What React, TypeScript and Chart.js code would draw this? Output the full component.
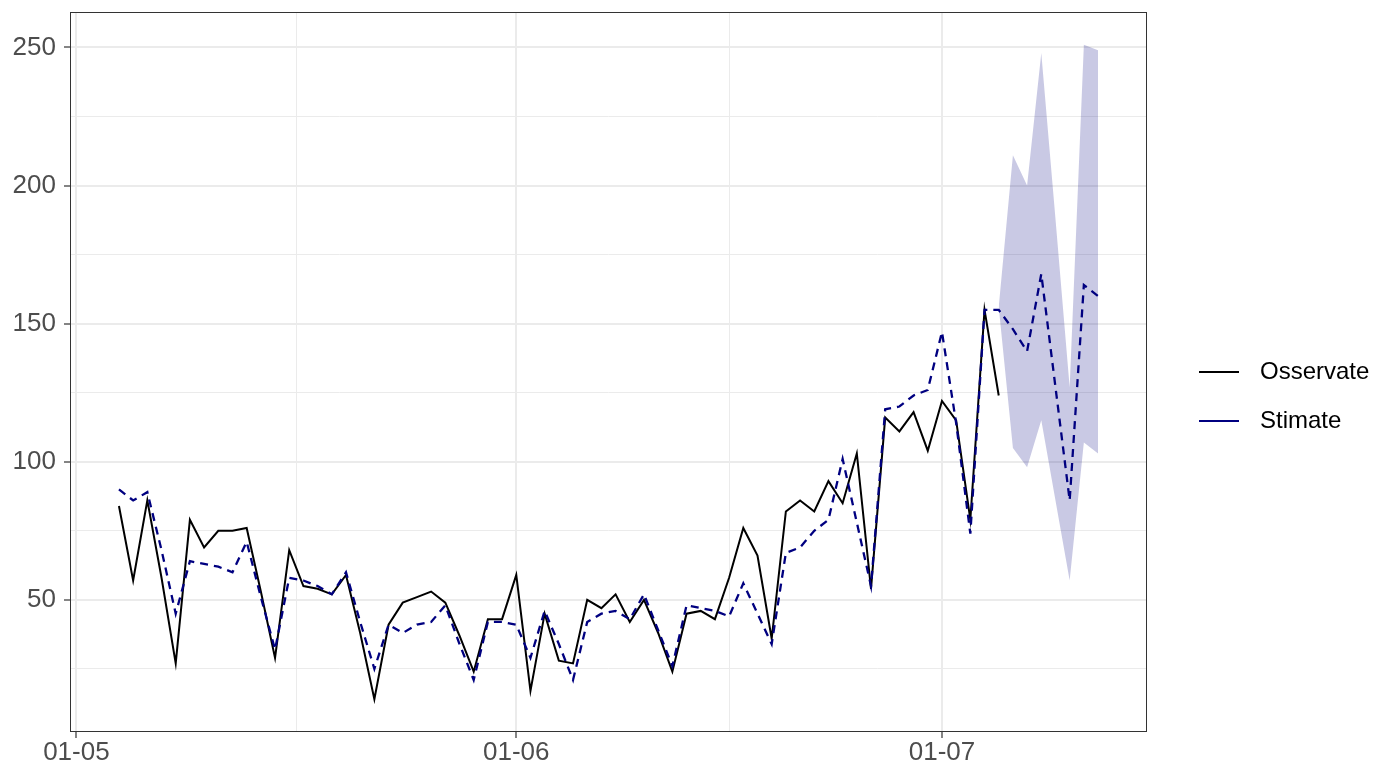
import React, { useEffect, useRef } from 'react';
import { Chart, registerables } from 'chart.js';

Chart.register(...registerables);

// ---- data (MM-DD) ----
const dates: string[] = [
  '05-04', '05-05', '05-06', '05-07', '05-08', '05-09', '05-10',
  '05-11', '05-12', '05-13', '05-14', '05-15', '05-16', '05-17',
  '05-18', '05-19', '05-20', '05-21', '05-22', '05-23', '05-24',
  '05-25', '05-26', '05-27', '05-28', '05-29', '05-30', '05-31',
  '06-01', '06-02', '06-03', '06-04', '06-05', '06-06', '06-07',
  '06-08', '06-09', '06-10', '06-11', '06-12', '06-13', '06-14',
  '06-15', '06-16', '06-17', '06-18', '06-19', '06-20', '06-21',
  '06-22', '06-23', '06-24', '06-25', '06-26', '06-27', '06-28',
  '06-29', '06-30', '07-01', '07-02', '07-03', '07-04', '07-05',
  '07-06', '07-07', '07-08', '07-09', '07-10', '07-11', '07-12',
];

const observed: number[] = [
  84, 57, 86, 58, 27, 79, 69,
  75, 75, 76, 53, 29, 68, 55,
  54, 52, 59, 38, 14, 41, 49,
  51, 53, 49, 37, 24, 43, 43,
  59, 17, 45, 28, 27, 50, 47,
  52, 42, 50, 38, 24, 45, 46,
  43, 58, 76, 66, 36, 82, 86,
  82, 93, 85, 103, 54, 116, 111,
  118, 104, 122, 115, 79, 155, 124,
];

const estimated: number[] = [
  90, 86, 89, 68, 45, 64, 63,
  62, 60, 71, 51, 32, 58, 57,
  55, 52, 60, 42, 25, 41, 38,
  41, 42, 48, 34, 21, 42, 42,
  41, 29, 46, 34, 21, 42, 45,
  46, 43, 52, 39, 26, 48, 47,
  46, 44, 56, 45, 34, 67, 69,
  75, 79, 101, 78, 55, 119, 120,
  124, 126, 147, 114, 74, 155, 155,
  148, 140, 168, 127, 86, 164, 160,
];

const bandDates: string[] = ['07-05', '07-06', '07-07', '07-08', '07-09', '07-10', '07-11', '07-12'];
const bandUpper: number[] = [156, 211, 200, 248, 188, 127, 251, 249];
const bandLower: number[] = [156, 105, 98, 115, 86, 57, 107, 103];

const xTickDates: string[] = ['05-01', '06-01', '07-01'];
const xTickLabels: string[] = ['01-05', '01-06', '01-07'];
const yTickValues: number[] = [50, 100, 150, 200, 250];

const seriesNames: string[] = ['Osservate', 'Stimate'];

// ---- helpers ----
const dayIndex = (md: string): number => {
  const [m, d] = md.split('-').map(Number);
  return Math.round((Date.UTC(2001, m - 1, d) - Date.UTC(2001, 4, 1)) / 86400000);
};

const FONT = "'Liberation Sans', Arial, Helvetica, sans-serif";

export default function App() {
  const ref = useRef<HTMLCanvasElement>(null);

  useEffect(() => {
    const canvas = ref.current;
    if (!canvas) return;

    const obsPts = observed.map((v, i) => ({ x: dayIndex(dates[i]), y: v }));
    const estPts = estimated.map((v, i) => ({ x: dayIndex(dates[i]), y: v }));
    const upPts = bandUpper.map((v, i) => ({ x: dayIndex(bandDates[i]), y: v }));
    const loPts = bandLower.map((v, i) => ({ x: dayIndex(bandDates[i]), y: v }));

    const allX = estPts.map((p) => p.x);
    const allY = [...observed, ...estimated, ...bandUpper, ...bandLower];
    const xMin0 = Math.min(...allX), xMax0 = Math.max(...allX);
    const yMin0 = Math.min(...allY), yMax0 = Math.max(...allY);
    const xPad = (xMax0 - xMin0) * 0.05;
    const yPad = (yMax0 - yMin0) * 0.05;

    const xMajor = xTickDates.map(dayIndex);
    const xMinor = xMajor.slice(1).map((v, i) => (v + xMajor[i]) / 2);
    const xTicks = [...xMajor, ...xMinor].sort((a, b) => a - b);
    const yStep = yTickValues[1] - yTickValues[0];
    const yMinor = [yTickValues[0] - yStep / 2, ...yTickValues.slice(1).map((v, i) => (v + yTickValues[i]) / 2)];
    const yTicks = [...yTickValues, ...yMinor].filter((v) => v > yMin0 - yPad && v < yMax0 + yPad).sort((a, b) => a - b);

    const isXMajor = (v: number) => xMajor.includes(v);
    const isYMajor = (v: number) => yTickValues.includes(v);

    const lineIcon = (color: string) => {
      const c = document.createElement('canvas');
      c.width = 76;
      c.height = 4;
      const g = c.getContext('2d')!;
      g.strokeStyle = color;
      g.lineWidth = 2;
      g.beginPath();
      g.moveTo(27, 2);
      g.lineTo(67, 2);
      g.stroke();
      return c;
    };
    const iconObs = lineIcon('#000000');
    const iconEst = lineIcon('#000080');

    const panelBorder = {
      id: 'panelBorder',
      afterDraw(chart: any) {
        const { ctx, chartArea: a } = chart;
        ctx.save();
        ctx.strokeStyle = '#333333';
        ctx.lineWidth = 1;
        ctx.strokeRect(Math.round(a.left) + 0.5, Math.round(a.top) + 0.5, Math.round(a.right - a.left) - 1, Math.round(a.bottom - a.top) - 1);
        ctx.restore();
      },
    };

    const chart = new Chart(canvas, {
      type: 'line',
      data: {
        datasets: [
          {
            label: seriesNames[1],
            data: estPts,
            borderColor: '#000080',
            borderWidth: 2.3,
            borderDash: [8, 6],
            pointRadius: 0,
            fill: false,
            tension: 0,
          },
          {
            label: seriesNames[0],
            data: obsPts,
            borderColor: '#000000',
            borderWidth: 2,
            pointRadius: 0,
            fill: false,
            tension: 0,
          },
          {
            label: 'upper',
            data: upPts,
            borderWidth: 0,
            borderColor: 'rgba(0,0,0,0)',
            backgroundColor: 'rgba(0,0,128,0.21)',
            pointRadius: 0,
            fill: '+1',
            tension: 0,
          },
          {
            label: 'lower',
            data: loPts,
            borderWidth: 0,
            borderColor: 'rgba(0,0,0,0)',
            pointRadius: 0,
            fill: false,
            tension: 0,
          },
        ],
      },
      options: {
        animation: false,
        responsive: true,
        maintainAspectRatio: false,
        events: [],
        layout: { padding: { top: 12, left: 0, right: 0, bottom: 0 } },
        scales: {
          x: {
            type: 'linear',
            min: xMin0 - xPad,
            max: xMax0 + xPad,
            afterBuildTicks: (scale: any) => {
              scale.ticks = xTicks.map((v) => ({ value: v }));
            },
            afterFit: (scale: any) => {
              scale.height = 35;
              scale.paddingLeft = 0;
              scale.paddingRight = 0;
            },
            ticks: {
              autoSkip: false,
              maxRotation: 0,
              padding: 2,
              color: '#4D4D4D',
              font: { family: FONT, size: 26, lineHeight: 1 },
              callback: (v: any) => {
                const i = xMajor.indexOf(Number(v));
                return i >= 0 ? xTickLabels[i] : '';
              },
            },
            grid: {
              color: '#EBEBEB',
              lineWidth: (c: any) => (c.tick && isXMajor(c.tick.value) ? 2 : 1),
              tickColor: (c: any) => (c.tick && isXMajor(c.tick.value) ? '#333333' : 'rgba(0,0,0,0)'),
              tickLength: 6,
              tickWidth: 1.2,
            },
            border: { display: false },
          },
          y: {
            type: 'linear',
            min: yMin0 - yPad,
            max: yMax0 + yPad,
            afterBuildTicks: (scale: any) => {
              scale.ticks = yTicks.map((v) => ({ value: v }));
            },
            afterFit: (scale: any) => {
              scale.width = 70;
              scale.paddingTop = 0;
              scale.paddingBottom = 0;
            },
            ticks: {
              autoSkip: false,
              padding: 8,
              color: '#4D4D4D',
              font: { family: FONT, size: 26, lineHeight: 1 },
              callback: (v: any) => (isYMajor(Number(v)) ? String(v) : ''),
            },
            grid: {
              color: '#EBEBEB',
              lineWidth: (c: any) => (c.tick && isYMajor(c.tick.value) ? 2 : 1),
              tickColor: (c: any) => (c.tick && isYMajor(c.tick.value) ? '#333333' : 'rgba(0,0,0,0)'),
              tickLength: 6,
              tickWidth: 1.2,
            },
            border: { display: false },
          },
        },
        plugins: {
          tooltip: { enabled: false },
          legend: {
            display: true,
            position: 'right',
            maxWidth: 228,
            title: { display: true, text: '', font: { size: 14, lineHeight: 1 }, padding: 0 },
            labels: {
              usePointStyle: true,
              pointStyleWidth: 76,
              padding: 25,
              color: '#000000',
              font: { family: FONT, size: 24 },
              generateLabels: () => [
                {
                  text: seriesNames[0],
                  pointStyle: iconObs,
                  fillStyle: 'rgba(0,0,0,0)',
                  strokeStyle: 'rgba(0,0,0,0)',
                  lineWidth: 0,
                  hidden: false,
                  datasetIndex: 1,
                  fontColor: '#000000',
                } as any,
                {
                  text: seriesNames[1],
                  pointStyle: iconEst,
                  fillStyle: 'rgba(0,0,0,0)',
                  strokeStyle: 'rgba(0,0,0,0)',
                  lineWidth: 0,
                  hidden: false,
                  datasetIndex: 0,
                  fontColor: '#000000',
                } as any,
              ],
            },
          },
        },
      } as any,
      plugins: [panelBorder],
    });

    return () => chart.destroy();
  }, []);

  return (
    <div style={{ position: 'fixed', left: 0, top: 0, width: '1375px', height: '767px', background: '#ffffff' }}>
      <canvas ref={ref} />
    </div>
  );
}
